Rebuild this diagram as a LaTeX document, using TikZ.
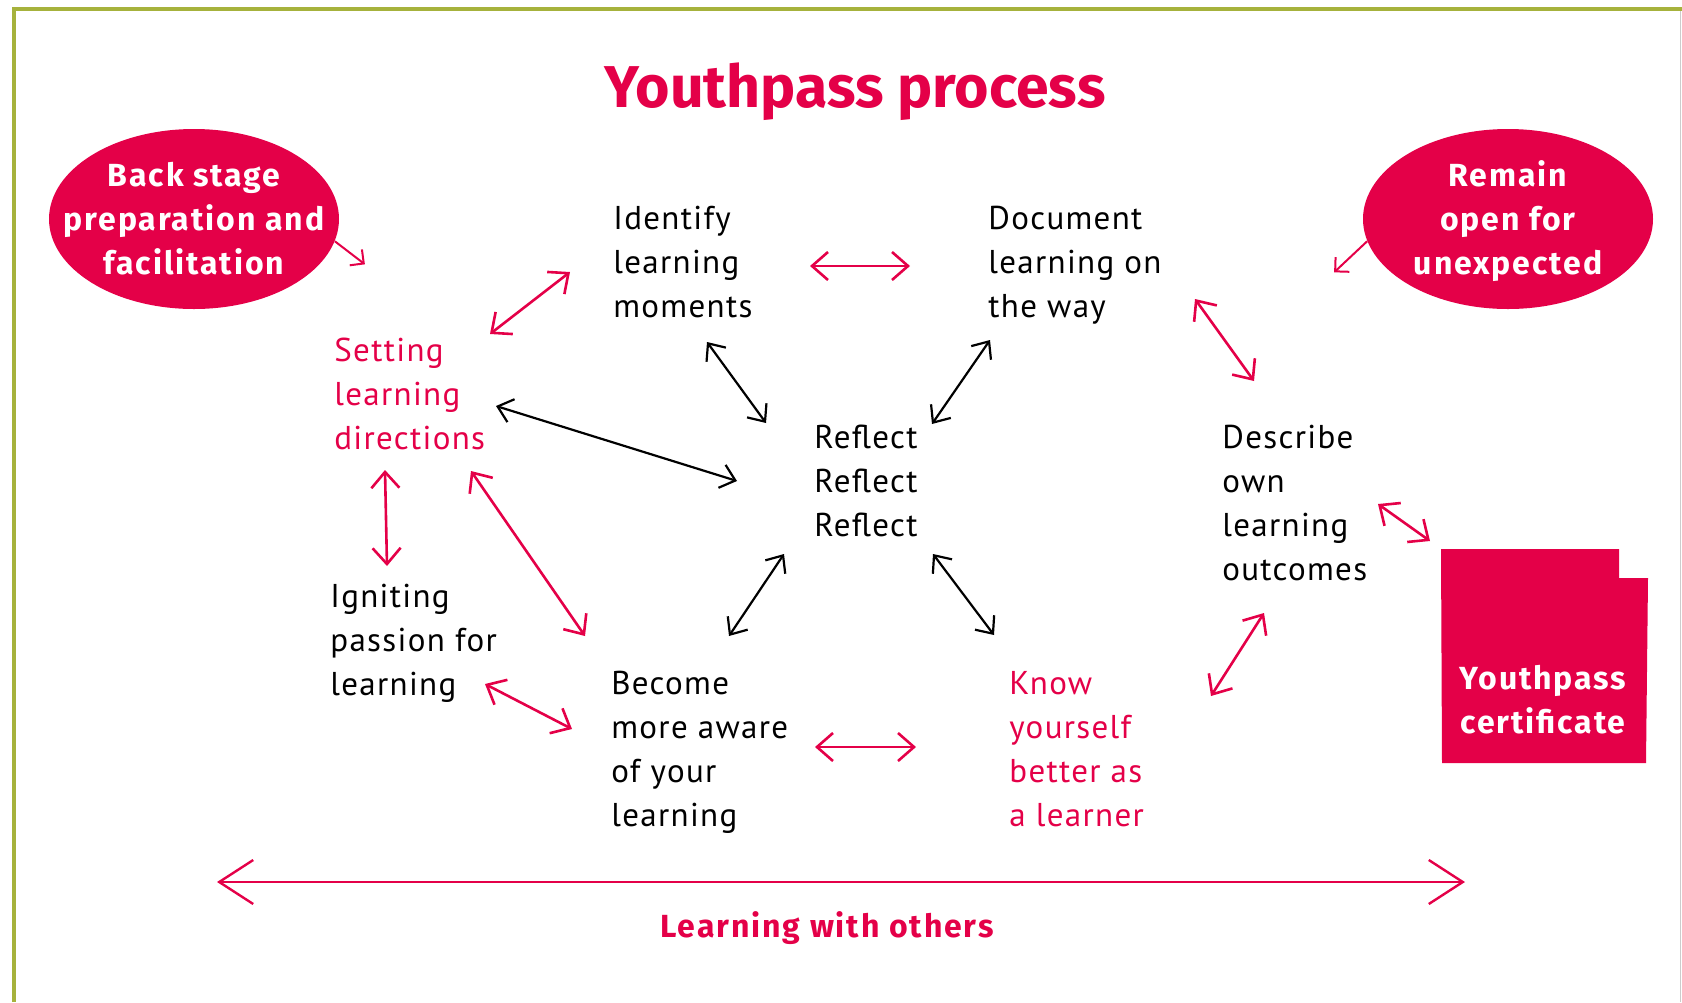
\documentclass[tikz,border=0pt]{standalone}
\usepackage{fontspec}
\setmainfont[LetterSpace=4]{PT Sans}
\newfontfamily\headfont{Fira Sans}
\newfontfamily\labelfont[LetterSpace=6]{Fira Sans}
\usetikzlibrary{arrows.meta,shapes.geometric}
\definecolor{ypred}{RGB}{228,0,72}
\definecolor{frameolive}{RGB}{166,178,60}
\tikzset{
  stage/.style={anchor=north west,inner sep=0pt,align=left,font=\fontsize{16.5}{22}\selectfont},
  bubble/.style={ellipse,fill=ypred,minimum width=145pt,minimum height=90pt,inner sep=0pt},
  bubtext/.style={text=white,align=center,inner sep=0pt,font=\labelfont\bfseries\fontsize{16}{22}\selectfont},
  redarr/.style={<->,>={Straight Barb[length=8pt,width=14pt]},ypred,line width=1.3pt},
  blackarr/.style={<->,>={Straight Barb[length=7pt,width=12pt]},line width=1.1pt},
  bubarr/.style={->,>={Straight Barb[length=5pt,width=10pt]},ypred,line width=1pt}
}
\begin{document}
\begin{tikzpicture}[x=0.5pt,y=-0.5pt]
\useasboundingbox (0,0) rectangle (1682,1002);
% frame
\draw[frameolive,line width=2pt] (14,1002)--(14,9)--(1682,9);
\draw[black!20,line width=0.5pt] (1680,11)--(1680,1002);
\node[ypred,anchor=base,font=\headfont\bfseries\fontsize{29.5}{34}\selectfont] (title) at (855,107) {Youthpass process};
% bubbles and certificate
\node[bubble] (backstage) at (194,219) {};
\node[bubtext] (backstagetext) at (backstage.center) {Back stage\\preparation and\\facilitation};
\node[bubble] (remain) at (1508,219) {};
\node[bubtext] (remaintext) at (1508,221) {Remain\\open for\\unexpected};
\fill[ypred] (1441,549)--(1619,549)--(1619,578)--(1648,578)--(1646,763)--(1442,763)--cycle;
\node[bubtext] (cert) at (1543,700) {Youthpass\\certificate};
\draw[bubarr] (backstage.-9)--++(30,23);
\draw[bubarr] (remain.189)--++(-33,31);
% stages
\node[stage,ypred] (setting) at (334,338) {Setting\\learning\\directions};
\node[stage] (identify) at (613,206) {Identify\\learning\\moments};
\node[stage] (document) at (988,206) {Document\\learning on\\the way};
\node[stage] (reflect) at (814,425) {Reflect\\Reflect\\Reflect};
\node[stage] (describe) at (1222,425) {Describe\\own\\learning\\outcomes};
\node[stage] (igniting) at (330,584) {Igniting\\passion for\\learning};
\node[stage] (become) at (611,671) {Become\\more aware\\of your\\learning};
\node[stage,ypred] (know) at (1009,671) {Know\\yourself\\better as\\a learner};
% arrow ends
\coordinate (set-ide) at (490,334); \coordinate (ide-set) at (570,272);
\coordinate (ide-doc) at (810,266); \coordinate (doc-ide) at (910,266);
\coordinate (doc-des) at (1195,299); \coordinate (des-doc) at (1254,381);
\coordinate (set-ign) at (385,470); \coordinate (ign-set) at (387,566);
\coordinate (set-bec) at (471,471); \coordinate (bec-set) at (585,636);
\coordinate (ign-bec) at (485,684); \coordinate (bec-ign) at (572,729);
\coordinate (bec-kno) at (815,747); \coordinate (kno-bec) at (916,747);
\coordinate (kno-des) at (1211,696); \coordinate (des-kno) at (1264,613);
\coordinate (des-cer) at (1378,504); \coordinate (cer-des) at (1430,541);
\coordinate (ide-ref) at (707,342); \coordinate (ref-ide) at (766,423);
\coordinate (doc-ref) at (990,340); \coordinate (ref-doc) at (932,424);
\coordinate (set-ref) at (496,406); \coordinate (ref-set) at (737,481);
\coordinate (ref-bec) at (784,554); \coordinate (bec-ref) at (729,636);
\coordinate (ref-kno) at (933,554); \coordinate (kno-ref) at (994,635);
\foreach \a/\b in {set-ide/ide-set,ide-doc/doc-ide,doc-des/des-doc,set-ign/ign-set,set-bec/bec-set,ign-bec/bec-ign,bec-kno/kno-bec,kno-des/des-kno,des-cer/cer-des}
  {\draw[redarr] (\a)--(\b);}
\foreach \a/\b in {ide-ref/ref-ide,doc-ref/ref-doc,set-ref/ref-set,ref-bec/bec-ref,ref-kno/kno-ref}
  {\draw[blackarr] (\a)--(\b);}
% learning with others
\coordinate (oth-l) at (217,882); \coordinate (oth-r) at (1465,882);
\draw[ypred,line width=0.8pt,<->,>={Straight Barb[length=17pt,width=22pt,line width=1.2pt]}] (oth-l)--(oth-r);
\node[ypred,anchor=base,font=\labelfont\bfseries\fontsize{16}{22}\selectfont] (others) at (827,937) {Learning with others};
\end{tikzpicture}
\end{document}
